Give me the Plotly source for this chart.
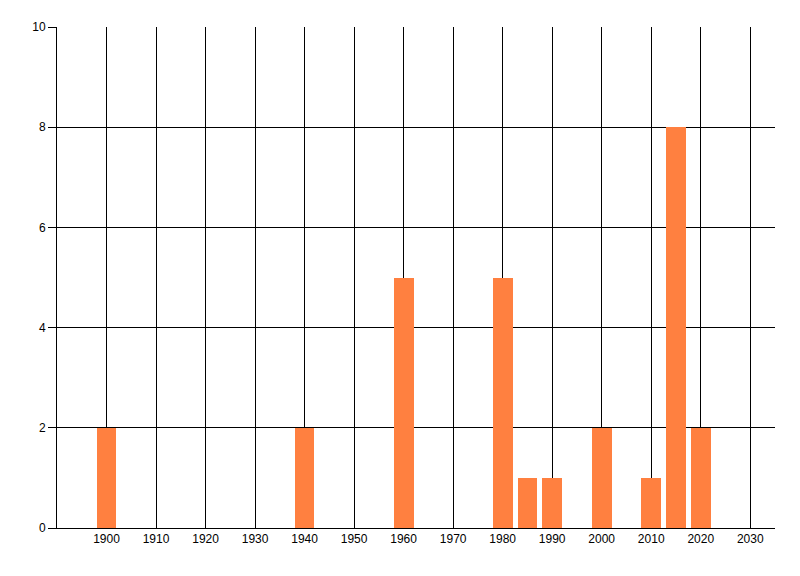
import plotly.graph_objects as go

# Counts per year
years = [1900, 1940, 1960, 1980, 1985, 1990, 2000, 2010, 2015, 2020]
counts = [2, 2, 5, 5, 1, 1, 2, 1, 8, 2]

x_ticks = list(range(1900, 2031, 10))
y_ticks = [0, 2, 4, 6, 8, 10]

fig = go.Figure()
fig.add_trace(go.Bar(
    x=years,
    y=counts,
    width=4,
    marker=dict(color='#FF8040', line=dict(width=0)),
))

# page body adds an 8px offset, so margins are shifted to compensate
fig.update_layout(
    width=800, height=576,
    margin=dict(l=49, r=33, t=19, b=56),
    paper_bgcolor='white',
    plot_bgcolor='white',
    showlegend=False,
    font=dict(family='Liberation Sans, Arial, sans-serif', size=12, color='black'),
    bargap=0,
)
fig.update_xaxes(
    range=[1890, 2035],
    tickvals=x_ticks,
    showgrid=True, gridcolor='black', gridwidth=1,
    showline=True, linecolor='black', linewidth=1,
    ticks='', zeroline=False,
)
fig.update_yaxes(
    range=[0, 10],
    tickvals=y_ticks,
    showgrid=True, gridcolor='black', gridwidth=1,
    showline=True, linecolor='black', linewidth=1,
    ticks='outside', ticklen=8, tickcolor='black',
    zeroline=False,
)

fig.write_html("out.html")
